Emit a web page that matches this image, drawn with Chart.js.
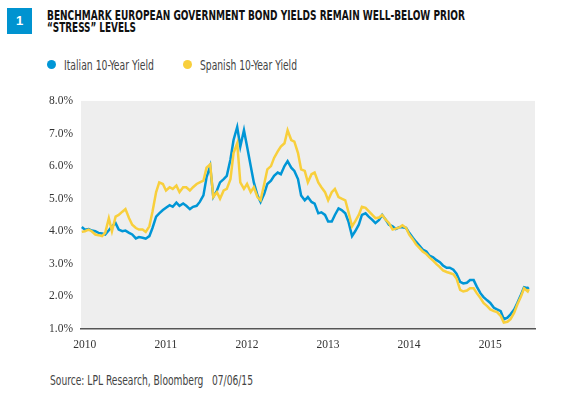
<!DOCTYPE html>
<html>
<head>
<meta charset="utf-8">
<script src="https://cdn.jsdelivr.net/npm/chart.js@4.4.1/dist/chart.umd.min.js"></script>
<style>
  body { margin: 0; background: #fff; width: 562px; height: 398px; position: relative; overflow: hidden; }
  .narrow { font-family: "Liberation Sans Narrow", "DejaVu Sans Condensed", "Roboto", sans-serif; white-space: nowrap;
            position: absolute; transform-origin: 0 0; }
  #badge { position: absolute; left: 7px; top: 8px; width: 25px; height: 26px; background: #0093d0; color: #fff;
           font: bold 13px "Liberation Sans", sans-serif; text-align: center; line-height: 26px; }
  .title { left: 47px; font-weight: bold; font-size: 13.5px; line-height: 13px; color: #111; }
  .legend { top: 57px; font-size: 14px; color: #444; }
  .dot { position: absolute; top: 60px; width: 9px; height: 9px; border-radius: 50%; }
  #source { left: 50px; top: 372px; font-size: 14px; color: #444; }
  #wrap { position: absolute; left: 0; top: 86px; width: 540px; height: 270px; }
</style>
</head>
<body>
<div id="badge">1</div>
<div class="title narrow" style="top:9px" data-w="418">BENCHMARK EUROPEAN GOVERNMENT BOND YIELDS REMAIN WELL-BELOW PRIOR</div>
<div class="title narrow" style="top:21px" data-w="89">“STRESS” LEVELS</div>
<div class="dot" style="left:47px;background:#0096d6"></div>
<div class="legend narrow" style="left:64px" data-w="90">Italian 10-Year Yield</div>
<div class="dot" style="left:183px;background:#f8cf3c"></div>
<div class="legend narrow" style="left:200px" data-w="97">Spanish 10-Year Yield</div>
<div id="wrap"><canvas id="bondChart"></canvas></div>
<div id="source" class="narrow" data-w="203">Source: LPL Research, Bloomberg &nbsp; 07/06/15</div>

<script>
// squeeze the condensed labels to the widths they have in the original
document.querySelectorAll("[data-w]").forEach(el => {
  const w = el.getBoundingClientRect().width;
  el.style.transform = "scaleX(" + (Number(el.dataset.w) / w) + ")";
});

// semi-monthly observations, Jan 2010 - Jul 2015
const dates = [
  "2010-01-01","2010-01-15","2010-02-01","2010-02-15","2010-03-01","2010-03-15","2010-04-01","2010-04-15",
  "2010-05-01","2010-05-15","2010-06-01","2010-06-15","2010-07-01","2010-07-15","2010-08-01","2010-08-15",
  "2010-09-01","2010-09-15","2010-10-01","2010-10-15","2010-11-01","2010-11-15","2010-12-01","2010-12-15",
  "2011-01-01","2011-01-15","2011-02-01","2011-02-15","2011-03-01","2011-03-15","2011-04-01","2011-04-15",
  "2011-05-01","2011-05-15","2011-06-01","2011-06-15","2011-07-01","2011-07-15","2011-08-01","2011-08-15",
  "2011-09-01","2011-09-15","2011-10-01","2011-10-15","2011-11-01","2011-11-15","2011-12-01","2011-12-15",
  "2012-01-01","2012-01-15","2012-02-01","2012-02-15","2012-03-01","2012-03-15","2012-04-01","2012-04-15",
  "2012-05-01","2012-05-15","2012-06-01","2012-06-15","2012-07-01","2012-07-15","2012-08-01","2012-08-15",
  "2012-09-01","2012-09-15","2012-10-01","2012-10-15","2012-11-01","2012-11-15","2012-12-01","2012-12-15",
  "2013-01-01","2013-01-15","2013-02-01","2013-02-15","2013-03-01","2013-03-15","2013-04-01","2013-04-15",
  "2013-05-01","2013-05-15","2013-06-01","2013-06-15","2013-07-01","2013-07-15","2013-08-01","2013-08-15",
  "2013-09-01","2013-09-15","2013-10-01","2013-10-15","2013-11-01","2013-11-15","2013-12-01","2013-12-15",
  "2014-01-01","2014-01-15","2014-02-01","2014-02-15","2014-03-01","2014-03-15","2014-04-01","2014-04-15",
  "2014-05-01","2014-05-15","2014-06-01","2014-06-15","2014-07-01","2014-07-15","2014-08-01","2014-08-15",
  "2014-09-01","2014-09-15","2014-10-01","2014-10-15","2014-11-01","2014-11-15","2014-12-01","2014-12-15",
  "2015-01-01","2015-01-15","2015-02-01","2015-02-15","2015-03-01","2015-03-15","2015-04-01","2015-04-15",
  "2015-05-01","2015-05-15","2015-06-01","2015-06-15","2015-07-01","2015-07-06"
];

const italianYield = [
  4.13,4.05,4.07,4.02,4.00,3.95,3.93,3.90,4.03,4.15,4.25,4.05,4.00,4.02,3.95,3.90,
  3.78,3.82,3.80,3.77,3.85,4.10,4.45,4.55,
  4.65,4.72,4.80,4.75,4.88,4.78,4.85,4.78,4.68,4.75,4.78,4.90,5.10,5.65,6.00,5.05,
  5.25,5.50,5.60,5.70,6.20,6.80,7.20,6.60,
  7.10,6.60,6.00,5.50,5.10,4.90,5.15,5.45,5.55,5.70,5.80,5.75,6.00,6.15,5.95,5.85,
  5.60,5.10,4.95,5.05,4.90,4.85,4.55,4.58,
  4.50,4.30,4.30,4.50,4.70,4.65,4.55,4.30,3.85,4.00,4.20,4.50,4.55,4.45,4.35,4.25,
  4.35,4.50,4.35,4.20,4.15,4.07,4.12,4.12,
  4.10,3.95,3.80,3.68,3.55,3.44,3.38,3.25,3.20,3.12,3.05,2.95,2.88,2.88,2.82,2.70,
  2.45,2.40,2.42,2.50,2.50,2.30,2.10,1.98,
  1.88,1.80,1.65,1.60,1.55,1.30,1.35,1.45,1.60,1.80,2.05,2.28,2.25,2.28
];

const spanishYield = [
  3.98,4.00,4.05,4.00,3.90,3.88,3.85,3.95,4.40,4.00,4.45,4.50,4.60,4.68,4.40,4.20,
  4.10,4.05,4.05,3.98,4.15,4.60,5.20,5.50,
  5.45,5.25,5.35,5.30,5.40,5.20,5.35,5.35,5.25,5.35,5.45,5.50,5.55,5.95,6.05,5.05,
  5.20,5.00,5.25,5.30,5.60,6.40,6.70,5.50,
  5.30,5.45,5.20,5.35,5.05,4.95,5.45,5.90,6.00,6.25,6.45,6.60,6.70,7.10,6.80,6.75,
  6.40,5.90,5.85,5.50,5.75,5.80,5.50,5.35,
  5.20,4.95,5.20,5.30,5.05,5.00,4.95,4.60,4.15,4.30,4.50,4.75,4.72,4.62,4.50,4.40,
  4.42,4.50,4.35,4.25,4.05,4.08,4.12,4.18,
  4.10,3.90,3.75,3.60,3.48,3.38,3.30,3.20,3.10,3.00,2.90,2.80,2.75,2.72,2.68,2.55,
  2.20,2.15,2.18,2.25,2.25,2.10,1.95,1.80,
  1.70,1.60,1.55,1.52,1.40,1.20,1.22,1.30,1.50,1.75,2.00,2.25,2.15,2.22
];

const yearTicks = [2010, 2011, 2012, 2013, 2014, 2015];
const yieldTicks = [1, 2, 3, 4, 5, 6, 7, 8];

// date string -> fractional year for the linear x axis
function toYear(d) {
  const [y, m, day] = d.split("-").map(Number);
  return y + (m - 1) / 12 + (day - 1) / 365;
}

const points = vals => vals.map((v, i) => ({ x: toYear(dates[i]), y: v }));

const tickFont = { family: "'Liberation Serif', 'DejaVu Serif', serif", size: 11.5 };

new Chart(document.getElementById("bondChart"), {
  type: "line",
  data: {
    datasets: [
      {
        label: "Italian 10-Year Yield",
        data: points(italianYield),
        borderColor: "#0096d6",
        borderWidth: 2.5,
        pointRadius: 0,
        tension: 0,
        order: 1
      },
      {
        label: "Spanish 10-Year Yield",
        data: points(spanishYield),
        borderColor: "#f8cf3c",
        borderWidth: 2.5,
        pointRadius: 0,
        tension: 0,
        order: 0
      }
    ]
  },
  plugins: [{
    id: "plotBg",
    beforeDraw(chart) {
      const { ctx, chartArea: a } = chart;
      ctx.save();
      ctx.fillStyle = "#eeeeee";
      ctx.fillRect(a.left, a.top, a.right - a.left, a.bottom - a.top);
      ctx.restore();
    }
  }],
  options: {
    responsive: true,
    maintainAspectRatio: false,
    animation: false,
    layout: { padding: { top: 10, right: 5 } },
    plugins: { legend: { display: false }, tooltip: { enabled: false } },
    scales: {
      x: {
        type: "linear",
        min: 2009.99,
        max: 2015.59,
        afterFit: s => { s.height = 27; },
        afterBuildTicks: s => { s.ticks = yearTicks.map(v => ({ value: v })); },
        grid: { display: false, drawTicks: false },
        border: { display: true, color: "#555555", width: 1.5 },
        ticks: {
          callback: v => String(v),
          font: tickFont,
          color: "#333333",
          padding: 9,
          labelOffset: 3,
          maxRotation: 0
        }
      },
      y: {
        min: 1,
        max: 8,
        afterFit: s => { s.width = 81; },
        afterBuildTicks: s => { s.ticks = yieldTicks.map(v => ({ value: v })); },
        grid: { display: false, drawTicks: false },
        border: { display: false },
        ticks: {
          callback: v => v.toFixed(1) + "%",
          font: tickFont,
          color: "#333333",
          padding: 8
        }
      }
    }
  }
});
</script>
</body>
</html>
